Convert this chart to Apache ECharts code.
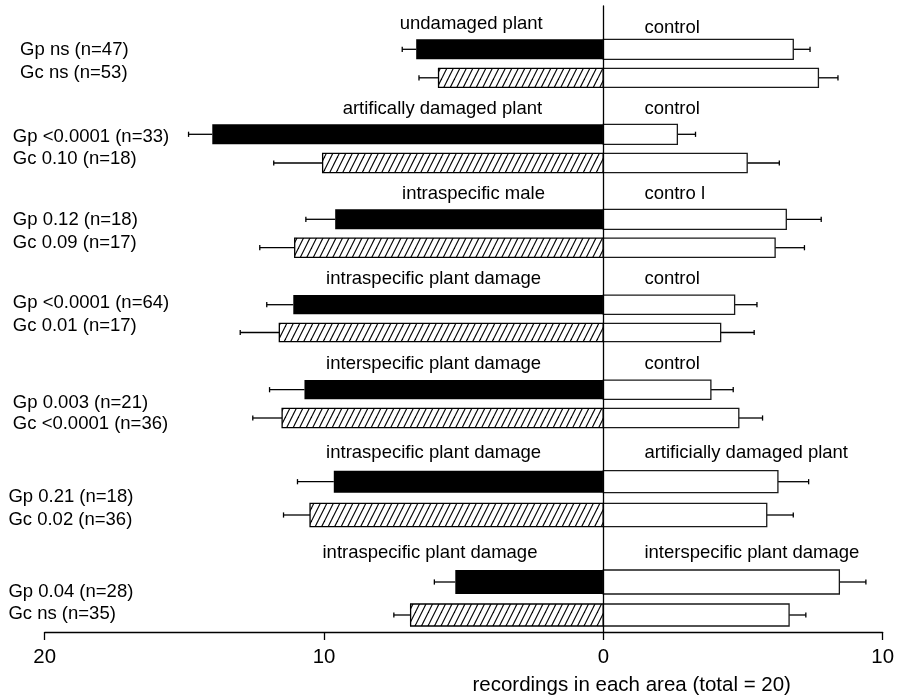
<!DOCTYPE html>
<html><head><meta charset="utf-8">
<script src="https://cdn.jsdelivr.net/npm/echarts@6/dist/echarts.min.js"></script>
<style>html,body{margin:0;padding:0;background:#fff}#c{width:897px;height:698px}</style>
</head><body><div id="c"></div>
<script>
// ---------- data ----------
const groupLeftNames = ["undamaged plant", "artifically damaged plant", "intraspecific male", "intraspecific plant damage", "interspecific plant damage", "intraspecific plant damage", "intraspecific plant damage"];
const groupRightNames = ["control", "control", "contro l", "control", "control", "artificially damaged plant", "interspecific plant damage"];
const gpStatLabels = ["Gp ns (n=47)", "Gp <0.0001 (n=33)", "Gp 0.12 (n=18)", "Gp <0.0001 (n=64)", "Gp 0.003 (n=21)", "Gp 0.21 (n=18)", "Gp 0.04 (n=28)"];
const gcStatLabels = ["Gc ns (n=53)", "Gc 0.10 (n=18)", "Gc 0.09 (n=17)", "Gc 0.01 (n=17)", "Gc <0.0001 (n=36)", "Gc 0.02 (n=36)", "Gc ns (n=35)"];

// left side (treatment) values and errors
const gpLeft    = [6.7, 14.0, 9.6, 11.1, 10.7, 9.65, 5.3];
const gpLeftErr = [0.5, 0.85, 1.05, 0.95, 1.25, 1.3, 0.75];
const gcLeft    = [5.9, 10.05, 11.05, 11.6, 11.5, 10.5, 6.9];
const gcLeftErr = [0.7, 1.75, 1.25, 1.4, 1.05, 0.95, 0.6];
// right side (control) values and errors
const gpRight    = [6.8, 2.65, 6.55, 4.7, 3.85, 6.25, 8.45];
const gpRightErr = [0.6, 0.65, 1.25, 0.8, 0.8, 1.1, 0.95];
const gcRight    = [7.7, 5.15, 6.15, 4.2, 4.85, 5.85, 6.65];
const gcRightErr = [0.7, 1.15, 1.05, 1.2, 0.85, 0.95, 0.6];

const xTickLabels = {"-20": "20", "-10": "10", "0": "0", "10": "10"};
const axisTitle = "recordings in each area (total = 20)";

// ---------- layout (row axis units) ----------
const rowPosGp = [43.3, 128.3, 213.3, 298.7, 383.7, 475.7, 576];
const rowPosGc = [71.8, 157, 241.7, 326.5, 412, 509, 609];
const rowHGp = [20, 20, 20, 19.3, 19.3, 22, 24];
const rowHGc = [19, 19.4, 19.3, 18.4, 19.4, 23.4, 22];
const topLabelLY = [17.8, 102.8, 188, 273, 358, 446.7, 546.6];
const topLabelRY = [22.2, 102.8, 188, 273, 358, 446.7, 546.6];
const gpLabelY = [43.5, 130.5, 214, 297, 397, 491, 585.5];
const gcLabelY = [66.5, 152.5, 237, 320, 418, 514, 607.5];
const statLabelX = [-20.88, -21.14, -21.14, -21.14, -21.14, -21.30, -21.30];
const topLabelLX = [-2.17, -2.19, -2.09, -2.23, -2.23, -2.23, -2.36];
const topLabelRX = 1.47;

const FONT = "'Liberation Sans', Arial, Helvetica, sans-serif";

// hatch pattern
function makeHatch() {
  const c = document.createElement('canvas');
  c.width = 13; c.height = 26;
  const g = c.getContext('2d');
  g.fillStyle = '#fff'; g.fillRect(0, 0, 13, 26);
  g.strokeStyle = '#000'; g.lineWidth = 1.2;
  for (let k = -3; k <= 3; k++) {
    g.beginPath();
    g.moveTo(k * 6.5, 26);
    g.lineTo(k * 6.5 + 13, 0);
    g.stroke();
  }
  return c;
}
const hatch = {image: makeHatch(), repeat: 'repeat'};

function barRender(fill, stroke) {
  return function (params, api) {
    const v = api.value(0), pos = api.value(1), err = api.value(2), h = api.value(3);
    const p0 = api.coord([0, pos]);
    const p1 = api.coord([v, pos]);
    const pe = api.coord([v + Math.sign(v) * err, pos]);
    const hh = api.size([0, h])[1];
    const y = p0[1];
    const children = [
      {type: 'line', shape: {x1: p1[0], y1: y, x2: pe[0], y2: y}, style: {stroke: '#000', lineWidth: 1.3}},
      {type: 'line', shape: {x1: pe[0], y1: y - 2.6, x2: pe[0], y2: y + 2.6}, style: {stroke: '#000', lineWidth: 1.3}},
      {type: 'rect', shape: {x: Math.min(p0[0], p1[0]), y: y - hh / 2, width: Math.abs(p1[0] - p0[0]), height: hh},
        style: {fill: fill, stroke: stroke, lineWidth: stroke ? 1.3 : 0}}
    ];
    return {type: 'group', children: children};
  };
}

function mk(vals, errs, pos, hs, sign) {
  return vals.map((v, i) => [sign * v, pos[i], errs[i], hs[i]]);
}

// text items
const textItems = [];
for (let i = 0; i < groupLeftNames.length; i++) {
  textItems.push({t: groupLeftNames[i], x: topLabelLX[i], y: topLabelLY[i], a: 'right'});
  textItems.push({t: groupRightNames[i], x: topLabelRX, y: topLabelRY[i], a: 'left'});
  textItems.push({t: gpStatLabels[i], x: statLabelX[i], y: gpLabelY[i], a: 'left'});
  textItems.push({t: gcStatLabels[i], x: statLabelX[i], y: gcLabelY[i], a: 'left'});
}

const chart = echarts.init(document.getElementById('c'), null, {renderer: 'canvas'});
chart.setOption({
  animation: false,
  backgroundColor: '#fff',
  grid: {left: 44.7, right: 12, top: 6, bottom: 66},
  xAxis: {
    type: 'value', min: -20, max: 10, interval: 10,
    axisLine: {onZero: false, lineStyle: {color: '#000', width: 1.3}},
    axisTick: {length: 8, lineStyle: {color: '#000', width: 1.3}},
    axisLabel: {formatter: v => xTickLabels[String(v)], color: '#000', fontSize: 20.4, fontFamily: FONT, margin: 15},
    splitLine: {show: false}
  },
  yAxis: {
    type: 'value', inverse: true, min: 0, max: 626, z: 5,
    axisLine: {show: true, onZero: true, lineStyle: {color: '#000', width: 1.3}},
    axisTick: {show: false}, axisLabel: {show: false}, splitLine: {show: false}
  },
  graphic: [{
    type: 'text', x: 631.7, y: 685,
    style: {text: axisTitle, fill: '#000', font: '20.5px ' + FONT, align: 'center', verticalAlign: 'middle'}
  }],
  series: [
    {type: 'custom', name: 'Gp treatment', renderItem: barRender('#000', null), encode: {x: 0, y: 1}, data: mk(gpLeft, gpLeftErr, rowPosGp, rowHGp, -1), clip: false},
    {type: 'custom', name: 'Gc treatment', renderItem: barRender(hatch, '#000'), encode: {x: 0, y: 1}, data: mk(gcLeft, gcLeftErr, rowPosGc, rowHGc, -1), clip: false},
    {type: 'custom', name: 'Gp control', renderItem: barRender('#fff', '#1a1a1a'), encode: {x: 0, y: 1}, data: mk(gpRight, gpRightErr, rowPosGp, rowHGp, 1), clip: false},
    {type: 'custom', name: 'Gc control', renderItem: barRender('#fff', '#1a1a1a'), encode: {x: 0, y: 1}, data: mk(gcRight, gcRightErr, rowPosGc, rowHGc, 1), clip: false},
    {type: 'custom', name: 'labels', clip: false, encode: {x: 0, y: 1},
      data: textItems.map((d, k) => [d.x, d.y, k]),
      renderItem: function (params, api) {
        const d = textItems[api.value(2)];
        const p = api.coord([api.value(0), api.value(1)]);
        return {type: 'text', x: p[0], y: p[1],
          style: {text: d.t, fill: '#000', font: '18.5px ' + FONT, align: d.a, verticalAlign: 'middle'}};
      }
    }
  ]
});
</script>
</body></html>
